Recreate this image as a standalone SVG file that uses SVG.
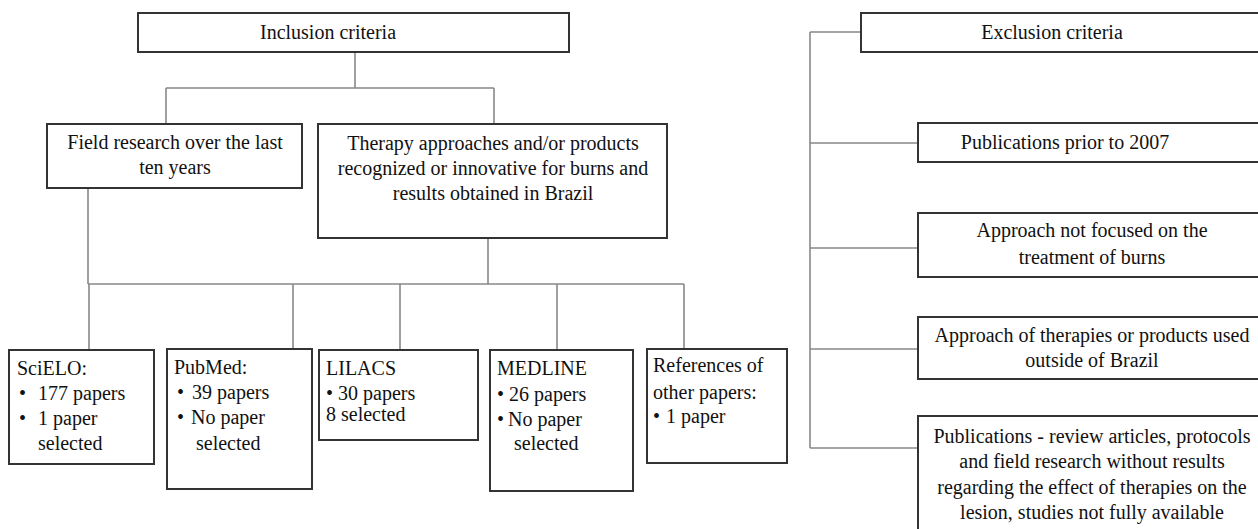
<svg xmlns="http://www.w3.org/2000/svg" width="1258" height="529" viewBox="0 0 1258 529">
<style>
.box{fill:#fff;stroke:#333;stroke-width:2}
.c{fill:none;stroke:#888;stroke-width:1.6}
text{font-family:"Liberation Serif","Times New Roman",serif;font-size:20px;fill:#111}
.m{text-anchor:middle}
</style>
<rect width="1258" height="529" fill="#fff"/>
<g id="connectors">
<path class="c" d="M355,52V88M166,88H494M166,88V124M494,88V124"/>
<path class="c" d="M88,188V284M488,238V284M88,284H684M89,284V350M293,284V349M400,284V350M557,284V350M684,284V349"/>
<path class="c" d="M810,32H861M810,32V448M810,143H918M810,248H918M810,349H918M810,448H918"/>
</g>
<g id="inclusion">
<rect class="box" x="138" y="13" width="431" height="39"/>
<text class="m" x="328" y="39">Inclusion criteria</text>
</g>
<g id="field">
<rect class="box" x="47" y="124" width="255" height="64"/>
<text class="m" x="175" y="149">Field research over the last</text>
<text class="m" x="175" y="174">ten years</text>
</g>
<g id="therapy">
<rect class="box" x="318" y="124" width="349" height="114"/>
<text class="m" x="493" y="150">Therapy approaches and/or products</text>
<text class="m" x="493" y="175">recognized or innovative for burns and</text>
<text class="m" x="493" y="200">results obtained in Brazil</text>
</g>
<g id="scielo">
<rect class="box" x="9" y="350" width="145" height="114"/>
<text x="17" y="375">SciELO:</text>
<text x="19" y="400">•</text><text x="38" y="400">177 papers</text>
<text x="19" y="425">•</text><text x="38" y="425">1 paper</text>
<text x="38" y="450">selected</text>
</g>
<g id="pubmed">
<rect class="box" x="167" y="349" width="145" height="140"/>
<text x="174" y="374">PubMed:</text>
<text x="177" y="399">•</text><text x="192" y="399">39 papers</text>
<text x="177" y="424">•</text><text x="191" y="424">No paper</text>
<text x="196" y="450">selected</text>
</g>
<g id="lilacs">
<rect class="box" x="319" y="350" width="159" height="90"/>
<text x="326" y="375">LILACS</text>
<text x="326" y="400">•</text><text x="338" y="400">30 papers</text>
<text x="326" y="421">8 selected</text>
</g>
<g id="medline">
<rect class="box" x="490" y="350" width="143" height="141"/>
<text x="497" y="375">MEDLINE</text>
<text x="497" y="401">•</text><text x="509" y="401">26 papers</text>
<text x="497" y="426">•</text><text x="508" y="426">No paper</text>
<text x="514" y="450">selected</text>
</g>
<g id="references">
<rect class="box" x="647" y="349" width="140" height="114"/>
<text x="653" y="372">References of</text>
<text x="653" y="399">other papers:</text>
<text x="653" y="423">•</text><text x="666" y="423">1 paper</text>
</g>
<g id="exclusion">
<rect class="box" x="861" y="13" width="401" height="39"/>
<text class="m" x="1052" y="39">Exclusion criteria</text>
</g>
<g id="prior2007">
<rect class="box" x="918" y="123" width="344" height="39"/>
<text class="m" x="1065" y="149">Publications prior to 2007</text>
</g>
<g id="notfocused">
<rect class="box" x="918" y="213" width="344" height="64"/>
<text class="m" x="1092" y="237">Approach not focused on the</text>
<text class="m" x="1092" y="264">treatment of burns</text>
</g>
<g id="outside">
<rect class="box" x="918" y="317" width="344" height="62"/>
<text class="m" x="1092" y="342">Approach of therapies or products used</text>
<text class="m" x="1092" y="367">outside of Brazil</text>
</g>
<g id="publications">
<rect class="box" x="918" y="416" width="344" height="120"/>
<text class="m" x="1092" y="443">Publications - review articles, protocols</text>
<text class="m" x="1092" y="468">and field research without results</text>
<text class="m" x="1092" y="494">regarding the effect of therapies on the</text>
<text class="m" x="1092" y="519">lesion, studies not fully available</text>
</g>
</svg>
